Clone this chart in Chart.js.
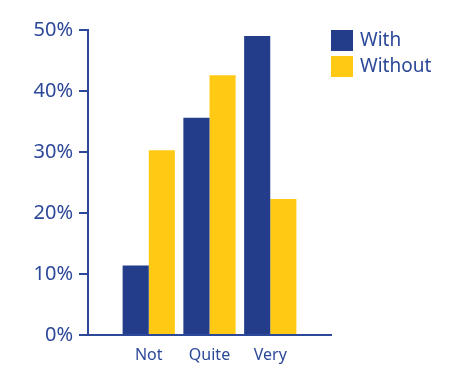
<!DOCTYPE html>
<html>
<head>
<meta charset="utf-8">
<script src="https://cdn.jsdelivr.net/npm/chart.js@4/dist/chart.umd.min.js"></script>
<style>
html,body{margin:0;padding:0;background:#fff;}
#wrap{width:468px;height:366px;position:relative;}
</style>
</head>
<body>
<div id="wrap"><canvas id="c" width="468" height="366"></canvas></div>
<script>
const categories = ['Not', 'Quite', 'Very'];
const withValues = [11.4, 35.6, 49.0];
const withoutValues = [30.3, 42.6, 22.3];
const seriesNames = ['With', 'Without'];
const yTicks = [0, 10, 20, 30, 40, 50];

const NAVY = '#243d8b';
const YELLOW = '#ffc914';
const AXIS = '#2c4898';
const FONT = "'Noto Sans', sans-serif";

// pad with empty categories at both ends so the groups sit on the inner gridline positions
const labels = [''].concat(categories, ['']);
const pad = arr => [null].concat(arr, [null]);

const legendPlugin = {
  id: 'boxLegend',
  afterDraw(chart) {
    const ctx = chart.ctx;
    const area = chart.chartArea;
    const x0 = area.right;
    let y = area.top;
    ctx.save();
    ctx.font = '19px ' + FONT;
    ctx.textBaseline = 'middle';
    chart.data.datasets.forEach(ds => {
      ctx.fillStyle = ds.backgroundColor;
      ctx.fillRect(x0, y, 22, 21);
      ctx.fillStyle = AXIS;
      ctx.fillText(ds.label, x0 + 29, y + 11);
      y += 26;
    });
    ctx.restore();
  }
};

new Chart(document.getElementById('c'), {
  type: 'bar',
  data: {
    labels: labels,
    datasets: [
      { label: seriesNames[0], data: pad(withValues), backgroundColor: NAVY, categoryPercentage: 0.86, barPercentage: 1 },
      { label: seriesNames[1], data: pad(withoutValues), backgroundColor: YELLOW, categoryPercentage: 0.86, barPercentage: 1 }
    ]
  },
  options: {
    responsive: false,
    animation: false,
    devicePixelRatio: 1,
    layout: { padding: { top: 30, right: 137, bottom: 0, left: 0 } },
    plugins: { legend: { display: false }, tooltip: { enabled: false } },
    scales: {
      x: {
        offset: false,
        afterFit(scale) { scale.height = 31; },
        grid: { display: false, drawTicks: false },
        border: { display: true, color: AXIS, width: 2 },
        ticks: { color: AXIS, font: { family: FONT, size: 16 }, padding: 11, maxRotation: 0, autoSkip: false }
      },
      y: {
        min: 0, max: 50,
        afterFit(scale) { scale.width = 88; },
        afterBuildTicks(scale) { scale.ticks = yTicks.map(v => ({ value: v })); },
        grid: { drawOnChartArea: false, drawTicks: true, tickLength: 9, color: AXIS, lineWidth: 2 },
        border: { display: true, color: AXIS, width: 2 },
        ticks: { color: AXIS, font: { family: FONT, size: 20 }, padding: 6, callback: v => v + '%' }
      }
    }
  },
  plugins: [legendPlugin]
});
</script>
</body>
</html>
